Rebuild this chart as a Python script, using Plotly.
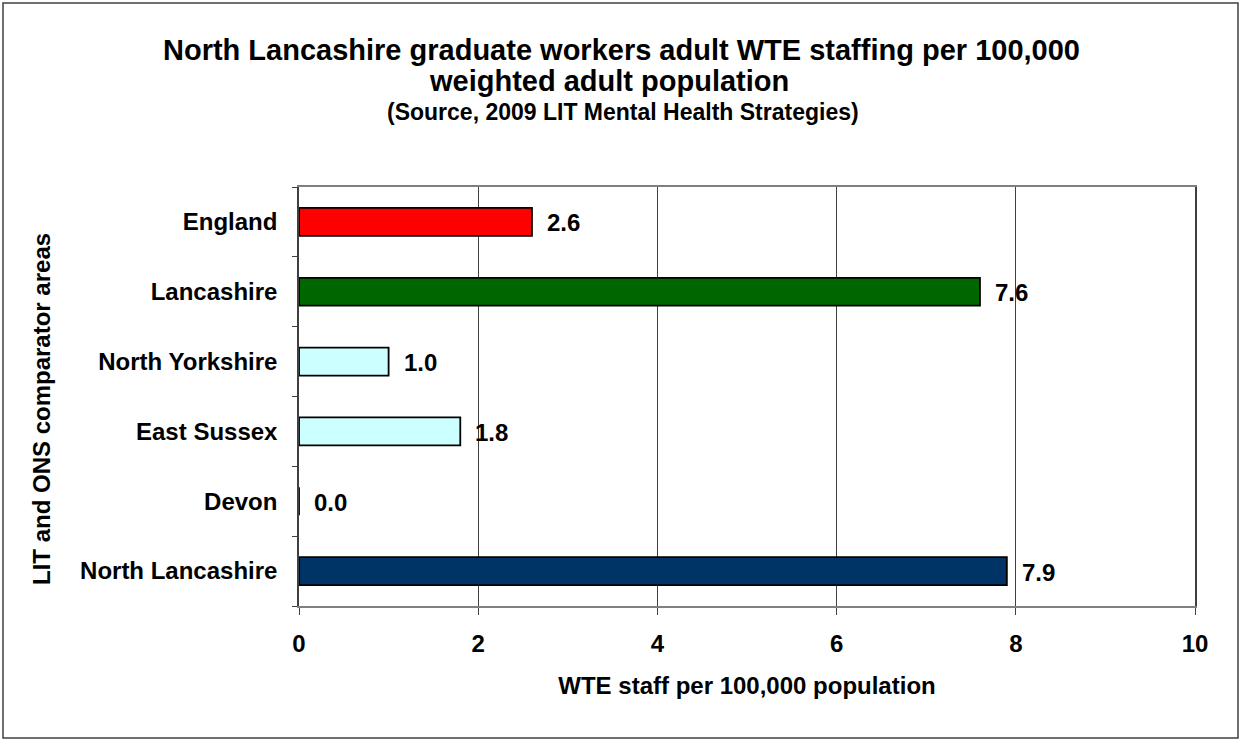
import plotly.graph_objects as go

categories = ["England", "Lancashire", "North Yorkshire", "East Sussex", "Devon", "North Lancashire"]
values = [2.6, 7.6, 1.0, 1.8, 0.0, 7.9]
labels = ["2.6", "7.6", "1.0", "1.8", "0.0", "7.9"]
colors = ["#FF0000", "#006600", "#CCFFFF", "#CCFFFF", "#CCFFFF", "#003366"]
x_ticks = [0, 2, 4, 6, 8, 10]

W, H = 1241, 740
L, R, T, B = 299, 46, 187, 134
pw, ph = W - L - R, H - T - B

def px(xp):
    return (xp - L) / pw

def py(yp):
    return (H - B - yp) / ph

FONT = "Liberation Sans, Arial, sans-serif"

fig = go.Figure()
fig.add_trace(go.Bar(
    y=categories, x=values, orientation="h",
    marker=dict(color=colors, line=dict(color="#000000", width=1.8)),
    width=0.4, showlegend=False, hoverinfo="skip",
))

for c, v, t in zip(categories, values, labels):
    fig.add_annotation(x=v, y=c, text="<b>%s</b>" % t, showarrow=False,
                       xanchor="left", xshift=13, yshift=-1,
                       font=dict(family=FONT, size=24, color="#000000"))

fig.add_annotation(xref="paper", yref="paper", x=px(621), y=py(50),
                   text="<b>North Lancashire graduate workers adult WTE staffing per 100,000</b>",
                   showarrow=False, xanchor="center", yanchor="middle",
                   font=dict(family=FONT, size=29, color="#000000"))
fig.add_annotation(xref="paper", yref="paper", x=px(609), y=py(81),
                   text="<b>weighted adult population</b>",
                   showarrow=False, xanchor="center", yanchor="middle",
                   font=dict(family=FONT, size=29, color="#000000"))
fig.add_annotation(xref="paper", yref="paper", x=px(623), y=py(112),
                   text="<b>(Source, 2009 LIT Mental Health Strategies)</b>",
                   showarrow=False, xanchor="center", yanchor="middle",
                   font=dict(family=FONT, size=23, color="#000000"))

# y-axis title
fig.add_annotation(xref="paper", yref="paper", x=px(41), y=py(409),
                   text="<b>LIT and ONS comparator areas</b>", textangle=-90,
                   showarrow=False, xanchor="center", yanchor="middle",
                   font=dict(family=FONT, size=24, color="#000000"))

# outer chart border
fig.add_shape(type="rect", xref="paper", yref="paper",
              x0=px(3), x1=px(1238), y0=py(738), y1=py(3),
              line=dict(color="#404040", width=1.5), fillcolor="rgba(0,0,0,0)", layer="below")

fig.update_layout(
    width=W, height=H,
    margin=dict(l=L, r=R, t=T, b=B),
    paper_bgcolor="#FFFFFF", plot_bgcolor="#FFFFFF",
    bargap=0.6,
    font=dict(family=FONT, color="#000000"),
    xaxis=dict(
        range=[0, 10], tickvals=x_ticks, ticktext=["<b>%d</b>" % v for v in x_ticks],
        showgrid=True, gridcolor="#404040", gridwidth=1,
        showline=True, linecolor="#808080", linewidth=1.5, mirror=True,
        ticks="outside", ticklen=7, tickcolor="#404040",
        tickfont=dict(family=FONT, size=24, color="#000000"),
        ticklabelstandoff=8,
        zeroline=False, fixedrange=True,
        title=dict(text="<b>WTE staff per 100,000 population</b>", standoff=22,
                   font=dict(family=FONT, size=24, color="#000000")),
    ),
    yaxis=dict(
        categoryorder="array", categoryarray=categories[::-1],
        showgrid=False,
        showline=True, linecolor="#404040", linewidth=1.5, mirror=True,
        ticks="outside", ticklen=5, tickcolor="#404040", tickson="boundaries",
        tickfont=dict(family=FONT, size=24, color="#000000"),
        ticklabelstandoff=15,
        tickprefix="<b>", ticksuffix="</b>",
        zeroline=False, fixedrange=True,
    ),
)

fig.write_html("out.html", config={"displayModeBar": False},
               post_script="document.body.style.margin='0';document.body.style.overflow='hidden';")
